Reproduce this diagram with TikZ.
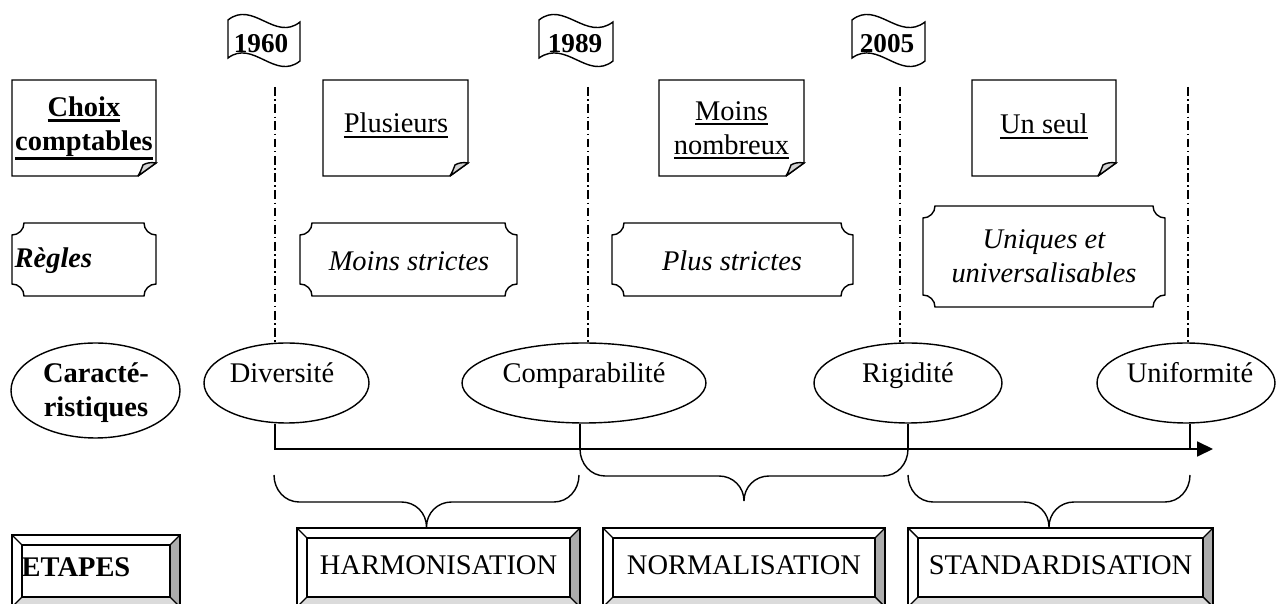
\documentclass[tikz,border=0pt]{standalone}
\usepackage{fontspec}
\setmainfont{Liberation Serif}
\usetikzlibrary{arrows.meta,shapes.geometric}

\newlength\ulwidth
\newcommand\ulx[3]{\settowidth\ulwidth{#3}\rlap{\smash{\rule[-#2]{\ulwidth}{#1}}}#3}

\tikzset{
  txt/.style={inner sep=0pt, align=center, font=\fontsize{16.2}{19.4}\selectfont},
  btxt/.style={txt, font=\fontsize{16.2}{19.4}\selectfont\bfseries},
  itxt/.style={txt, font=\fontsize{16.2}{19.4}\selectfont\itshape},
  bitxt/.style={txt, font=\fontsize{16.2}{19.4}\selectfont\bfseries\itshape},
  ytxt/.style={txt, font=\fontsize{15.5}{18}\selectfont\bfseries},
  ell/.style={draw, ellipse, inner sep=0pt},
  ddline/.style={dash pattern=on 5pt off 2pt on 0.8pt off 2pt},
  foldfill/.style={fill=gray!35},
  darkbevel/.style={fill=gray!65},
  lightbevel/.style={fill=gray!28},
}

% note box with folded corner: x0 y0 x1 y1
\newcommand\notebox[4]{%
  \draw (#1,#2) -- (#3,#2) -- (#3,{#4-13}) -- ({#3-18},#4) -- (#1,#4) -- cycle;
  \filldraw[foldfill] ({#3-18},#4) -- (#3,{#4-13})
     .. controls ({#3-5},{#4-14}) and ({#3-10},{#4-13}) .. ({#3-13},{#4-11})
     .. controls ({#3-15},{#4-6}) and ({#3-16},{#4-3}) .. ({#3-18},#4);
}
% plaque with concave corners: x0 y0 x1 y1
\newcommand\plaque[4]{%
  \draw ({#1+12},#2) -- ({#3-12},#2)
     .. controls ({#3-12},{#2+6.6}) and ({#3-6.6},{#2+12}) .. (#3,{#2+12})
     -- (#3,{#4-12})
     .. controls ({#3-6.6},{#4-12}) and ({#3-12},{#4-6.6}) .. ({#3-12},#4)
     -- ({#1+12},#4)
     .. controls ({#1+12},{#4-6.6}) and ({#1+6.6},{#4-12}) .. (#1,{#4-12})
     -- (#1,{#2+12})
     .. controls ({#1+6.6},{#2+12}) and ({#1+12},{#2+6.6}) .. ({#1+12},#2) -- cycle;
}
% wavy flag: x0 x1
\newcommand\flagshape[2]{%
  \draw (#1,20) .. controls ({#1+25},0) and ({#1+47},42) .. (#2,22)
     -- (#2,61) .. controls ({#2-25},81) and ({#2-47},39) .. (#1,58) -- cycle;
}
% bevelled box: x0 y0 x1 y1
\newcommand\bevelbox[4]{%
  \fill[darkbevel] (#3,#2) -- (#3,#4) -- ({#3-10},{#4-10}) -- ({#3-10},{#2+10}) -- cycle;
  \fill[lightbevel] (#1,#4) -- (#3,#4) -- ({#3-10},{#4-10}) -- ({#1+10},{#4-10}) -- cycle;
  \draw (#1,#2) rectangle (#3,#4);
  \draw ({#1+10},{#2+10}) rectangle ({#3-10},{#4-10});
  \draw (#1,#2) -- ({#1+10},{#2+10}) (#3,#2) -- ({#3-10},{#2+10})
        (#1,#4) -- ({#1+10},{#4-10}) (#3,#4) -- ({#3-10},{#4-10});
}
% brace: x0 x1 ytop ymid ytip
\newcommand\drawbrace[5]{%
  \draw (#1,#3) -- (#1,{#4-27})
     .. controls (#1,{#4-12}) and ({#1+11},#4) .. ({#1+25},#4)
     -- ({(#1+#2)/2-25},#4)
     .. controls ({(#1+#2)/2-11},#4) and ({(#1+#2)/2},{#5-14}) .. ({(#1+#2)/2},#5)
     .. controls ({(#1+#2)/2},{#5-14}) and ({(#1+#2)/2+11},#4) .. ({(#1+#2)/2+25},#4)
     -- ({#2-25},#4)
     .. controls ({#2-11},#4) and (#2,{#4-12}) .. (#2,{#4-27}) -- (#2,#3);
}

\begin{document}
\begin{tikzpicture}[x=0.02cm,y=-0.02cm,line width=0.8pt]
\useasboundingbox (0,0) rectangle (1276,604);
\clip (0,0) rectangle (1276,604);

% year flags
\flagshape{228}{300}
\flagshape{539}{613}
\flagshape{852}{925}
\node[ytxt] (y1960) at (261,44) {1960};
\node[ytxt] (y1989) at (575,44) {1989};
\node[ytxt] (y2005) at (887,44) {2005};

% row 1: choix comptables
\notebox{12}{80}{156}{176}
\notebox{323}{80}{468}{176}
\notebox{659}{80}{804}{176}
\notebox{972}{80}{1116}{176}
\node[btxt] (choix) at (84,127) {\ulx{1.6pt}{3pt}{Choix}\\\ulx{1.6pt}{5pt}{comptables}};
\node[txt, anchor=base] (plus) at (396,133) {\ulx{0.85pt}{2.6pt}{Plusieurs}};
\node[txt] (moins) at (731.5,128) {\ulx{0.85pt}{2.6pt}{Moins}\\\ulx{0.85pt}{2.6pt}{nombreux}};
\node[txt, anchor=base] (seul) at (1044,134) {\ulx{0.85pt}{2.6pt}{Un seul}};

% row 2: regles
\plaque{12}{223}{156}{296}
\plaque{300}{223}{517}{296}
\plaque{612}{223}{853}{296}
\plaque{923}{206}{1165}{307}
\node[bitxt, anchor=west] (regles) at (14,261) {Règles};
\node[itxt] (ms) at (409,261) {Moins strictes};
\node[itxt] (ps) at (732,261) {Plus strictes};
\node[itxt] (uu) at (1044,256) {Uniques et\\universalisables};

% row 3: caracteristiques
\node[ell, minimum width=3.38cm, minimum height=1.9cm] (car) at (95.5,390.5) {};
\node[btxt] (cart) at (96,393) {Caracté-\\ristiques};
\node[ell, minimum width=3.3cm, minimum height=1.6cm] (dv) at (286.5,383) {};
\node[ell, minimum width=4.88cm, minimum height=1.6cm] (cp) at (584,383) {};
\node[ell, minimum width=3.76cm, minimum height=1.6cm] (rg) at (908,383) {};
\node[ell, minimum width=3.56cm, minimum height=1.6cm] (un) at (1186,383) {};
\node[txt, anchor=base] (dvt) at (282,383) {Diversité};
\node[txt, anchor=base] (cpt) at (584,383) {Comparabilité};
\node[txt, anchor=base] (rgt) at (908,383) {Rigidité};
\node[txt, anchor=base] (unt) at (1190,383) {Uniformité};

% time markers (dash-dot)
\coordinate (d1) at (275,87);
\coordinate (d2) at (588,87);
\coordinate (d3) at (900,87);
\coordinate (d4) at (1188,87);
\draw[ddline] (d1) -- (dv.north -| d1);
\draw[ddline] (d2) -- (cp.north -| d2);
\draw[ddline] (d3) -- (rg.north -| d3);
\draw[ddline] (d4) -- (un.north -| d4);

% axis
\coordinate (s1) at (275,449);
\coordinate (s2) at (580,449);
\coordinate (s3) at (908,449);
\coordinate (s4) at (1190,449);
\coordinate (axR) at (1213,449);
\draw[-{Triangle[length=9pt,width=8.5pt]}] (dv.south -| s1) -- (s1) -- (axR);
\draw (cp.south -| s2) -- (s2);
\draw (rg.south -| s3) -- (s3);
\draw (un.south -| s4) -- (s4);

% braces
\drawbrace{274}{579}{475}{502}{527}
\drawbrace{580}{908}{449}{476}{501}
\drawbrace{908}{1190}{475}{502}{527}

% row 4: etapes
\bevelbox{12}{535}{180}{607}
\bevelbox{297}{528}{580}{607}
\bevelbox{603}{528}{885}{607}
\bevelbox{908}{528}{1213}{607}
\node[btxt, anchor=west] (etapes) at (21,567) {ETAPES};
\node[txt] (harm) at (438.5,565) {HARMONISATION};
\node[txt] (norm) at (744,565) {NORMALISATION};
\node[txt] (stand) at (1060.5,565) {STANDARDISATION};
\end{tikzpicture}
\end{document}
